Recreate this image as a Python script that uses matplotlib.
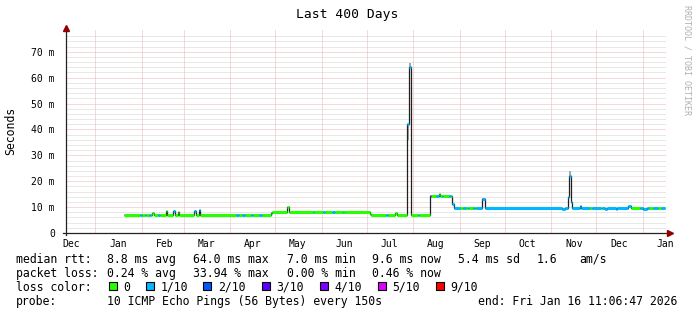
import matplotlib
matplotlib.use("Agg")
import matplotlib.pyplot as plt
import matplotlib.dates as mdates
from matplotlib.patches import Rectangle
import numpy as np
import pandas as pd

plt.rcParams["font.family"] = "DejaVu Sans Mono"

W, H = 697, 315
START = pd.Timestamp("2024-12-12 11:06:47")
END = pd.Timestamp("2026-01-16 11:06:47")

# median rtt (ms) as steps: each value holds from its start date to the next one
seg_start = [
    "2025-01-20", "2025-01-31", "2025-02-01", "2025-02-03", "2025-02-04", "2025-02-06",
    "2025-02-07", "2025-02-08", "2025-02-09", "2025-02-12", "2025-02-13", "2025-02-17",
    "2025-02-18", "2025-02-22", "2025-02-23", "2025-02-25", "2025-02-26", "2025-03-08",
    "2025-03-09", "2025-03-11", "2025-03-12", "2025-04-05", "2025-04-07", "2025-04-09",
    "2025-04-11", "2025-04-15", "2025-04-16", "2025-04-20", "2025-04-22", "2025-04-28",
    "2025-04-29", "2025-05-09", "2025-05-10", "2025-05-26", "2025-05-27", "2025-06-02",
    "2025-06-03", "2025-06-08", "2025-06-10", "2025-06-15", "2025-06-16", "2025-07-03",
    "2025-07-04", "2025-07-14", "2025-07-15", "2025-07-20", "2025-07-21", "2025-07-28",
    "2025-07-29", "2025-07-30 12:00", "2025-08-04", "2025-08-05", "2025-08-12", "2025-08-13",
    "2025-08-16", "2025-08-18", "2025-08-19", "2025-08-20", "2025-08-21", "2025-08-25",
    "2025-08-26", "2025-08-27", "2025-08-28", "2025-09-01", "2025-09-03", "2025-09-05",
    "2025-09-06 12:00", "2025-09-07", "2025-09-09 12:00", "2025-09-11", "2025-09-12", "2025-09-16",
    "2025-09-18", "2025-11-08", "2025-11-10", "2025-11-12", "2025-11-13", "2025-11-14",
    "2025-11-15", "2025-11-20", "2025-11-21", "2025-11-27", "2025-11-28", "2025-12-04",
    "2025-12-05", "2025-12-07", "2025-12-08", "2025-12-14", "2025-12-15", "2025-12-22",
    "2025-12-24", "2025-12-30", "2026-01-01", "2026-01-04", "2026-01-05", "2026-01-08",
    "2026-01-11", "2026-01-13",
]
data_end = "2026-01-16"
seg_rtt = [
    6.95, 6.95, 6.95, 6.95, 6.95, 6.95,
    6.95, 7.6, 6.95, 6.95, 6.95, 8.5,
    6.95, 8.6, 6.95, 8.0, 6.95, 8.5,
    6.95, 8.9, 6.95, 6.95, 6.95, 6.95,
    6.95, 6.95, 6.95, 6.95, 6.95, 7.6,
    8.1, 10.2, 8.1, 8.1, 8.1, 8.1,
    8.1, 8.1, 8.1, 8.1, 8.1, 7.5,
    7.1, 7.1, 7.1, 7.6, 7.1, 42.0,
    64.0, 7.1, 7.1, 7.1, 14.3, 14.3,
    14.3, 14.9, 14.3, 14.3, 14.3, 14.3,
    14.3, 11.2, 9.8, 9.8, 9.8, 9.8,
    9.8, 9.8, 9.8, 9.8, 9.8, 13.0,
    9.8, 9.3, 9.8, 13.8, 22.0, 12.1,
    9.8, 10.4, 9.8, 9.8, 9.8, 9.8,
    9.8, 9.4, 9.8, 9.4, 9.8, 10.4,
    9.8, 9.8, 9.4, 9.8, 9.8, 9.8,
    9.8, 9.8,
]
# packet loss in tenths for each step
seg_loss = [
    0, 1, 0, 1, 0, 1,
    0, 0, 0, 1, 0, 0,
    0, 1, 0, 0, 0, 1,
    0, 1, 0, 1, 0, 1,
    0, 1, 0, 1, 0, 1,
    0, 0, 0, 1, 0, 1,
    0, 1, 0, 1, 0, 0,
    0, 1, 0, 0, 0, 1,
    1, 0, 1, 0, 3, 0,
    1, 0, 0, 1, 0, 1,
    0, 1, 1, 0, 1, 0,
    1, 0, 1, 0, 1, 1,
    1, 1, 1, 1, 1, 1,
    1, 1, 1, 0, 1, 0,
    1, 1, 1, 1, 1, 1,
    0, 1, 1, 1, 0, 1,
    0, 1,
]

# grey smoke around the spikes
smoke_start = ["2025-07-28", "2025-07-29", "2025-09-16", "2025-11-13"]
smoke_end = ["2025-07-29", "2025-07-30 12:00", "2025-09-18", "2025-11-14"]
smoke_lo = [36.0, 64.0, 13.0, 22.0]
smoke_hi = [42.0, 65.8, 13.6, 23.8]

loss_keys = [0, 1, 2, 3, 4, 5, 9]
loss_labels = ["0", "1/10", "2/10", "3/10", "4/10", "5/10", "9/10"]
loss_colors = ["#26ff00", "#00b8ff", "#0059ff", "#5e00ff", "#7e00ff", "#dd00ff", "#ff0000"]
LC = dict(zip(loss_keys, loss_colors))

y_ticks = [0, 10, 20, 30, 40, 50, 60, 70]
month_starts = pd.date_range("2025-01-01", "2026-01-01", freq="MS")
label_months = pd.date_range("2024-12-01", "2026-01-01", freq="MS")


def to_num(dates):
    return mdates.date2num(pd.to_datetime(dates, format="ISO8601"))


fig = plt.figure(figsize=(W / 100, H / 100), dpi=100)
fig.patch.set_facecolor("white")
ax = fig.add_axes([66 / W, 1 - 233 / H, 600 / W, 203 / H])
ax.set_facecolor("white")
for s in ax.spines.values():
    s.set_visible(False)

x0, x1 = mdates.date2num(START), mdates.date2num(END)
ax.set_xlim(x0, x1)
ax.set_ylim(0, 78.4)

# dotted grid, light like rrdtool's
dot = (0, (1, 1))
for v in np.arange(2, 78, 2):
    if v % 10:
        ax.axhline(v, color="#d2d2d2", lw=0.72, ls=dot, zorder=1)
for v in y_ticks[1:]:
    ax.axhline(v, color="#ecb4b4", lw=0.72, ls=dot, zorder=1)
for d in month_starts:
    ax.axvline(mdates.date2num(d), color="#ecb4b4", lw=0.72, ls=dot, zorder=1)

# smoke
ss = to_num(smoke_start)
se = to_num(smoke_end)
ax.bar(ss, np.array(smoke_hi) - np.array(smoke_lo), bottom=smoke_lo, width=se - ss,
       align="edge", color="#a8a8a8", linewidth=0, zorder=2)

# median line: black underline + loss-coloured steps
edges = to_num(seg_start + [data_end])
ax.stairs(seg_rtt, edges, baseline=None, color="#202020", lw=0.9, zorder=3)
ax.hlines(seg_rtt, edges[:-1], edges[1:], colors=[LC[l] for l in seg_loss],
          lw=2.2, zorder=4, capstyle="butt")

# axes with arrows
ax.plot([-0.005, 1.006], [0, 0], transform=ax.transAxes, color="#222222", lw=0.9,
        clip_on=False, zorder=5)
ax.plot([0, 0], [-0.012, 1.005], transform=ax.transAxes, color="#222222", lw=0.9,
        clip_on=False, zorder=5)
ax.plot([1.007], [0], transform=ax.transAxes, marker=">", ms=4, color="#900000",
        clip_on=False, zorder=6)
ax.plot([0], [1.009], transform=ax.transAxes, marker="^", ms=4, color="#900000",
        clip_on=False, zorder=6)

ax.set_yticks(y_ticks)
ax.set_yticklabels(["0"] + [f"{v} m" for v in y_ticks[1:]])
ax.set_xticks(mdates.date2num(label_months + pd.Timedelta(days=15)))
ax.set_xticklabels([d.strftime("%b") for d in label_months])
ax.tick_params(axis="y", length=0, pad=8, labelsize=7)
ax.tick_params(axis="x", length=0, pad=4, labelsize=7)


def ftext(x, y, s, **kw):
    fig.text(x / W, 1 - y / H, s, **kw)


ftext(347.5, 18.3, "Last 400 Days", ha="center", va="baseline", fontsize=9.4)
ftext(11, 131, "Seconds", ha="center", va="center", rotation=90, fontsize=8.3)
ftext(687, 5, "RRDTOOL / TOBI OETIKER", ha="center", va="top", rotation=270,
      fontsize=6, color="#b0b0b0")

fs = 8.3
rows = [262.7, 276.8, 290.9, 305.0]
ftext(16, rows[0], "median rtt:", va="baseline", fontsize=fs)
for x, s in zip([107.3, 193.3, 286.7, 371.7, 458.3, 536.7, 579.3],
                ["8.8 ms avg", "64.0 ms max", "7.0 ms min", "9.6 ms now", "5.4 ms sd", "1.6", "am/s"]):
    ftext(x, rows[0], s, va="baseline", fontsize=fs)
ftext(16, rows[1], "packet loss:", va="baseline", fontsize=fs)
for x, s in zip([107.3, 193.3, 286.7, 371.7],
                ["0.24 % avg", "33.94 % max", "0.00 % min", "0.46 % now"]):
    ftext(x, rows[1], s, va="baseline", fontsize=fs)
ftext(16, rows[2], "loss color:", va="baseline", fontsize=fs)
box_x = [108.7, 145.7, 203.3, 261.7, 320.0, 377.7, 435.7]
for bx, lab, col in zip(box_x, loss_labels, loss_colors):
    fig.patches.append(Rectangle((bx / W, 1 - 289.5 / H), 8 / W, 8 / H, transform=fig.transFigure,
                                 facecolor=col, edgecolor="black", lw=0.8))
    ftext(bx + 14.6, rows[2], lab, va="baseline", fontsize=fs)
ftext(16, rows[3], "probe:", va="baseline", fontsize=fs)
ftext(107.3, rows[3], "10 ICMP Echo Pings (56 Bytes) every 150s", va="baseline", fontsize=fs)
ftext(478.3, rows[3], "end: Fri Jan 16 11:06:47 2026", va="baseline", fontsize=fs)

fig.savefig("out.png", dpi=100, facecolor="white")
